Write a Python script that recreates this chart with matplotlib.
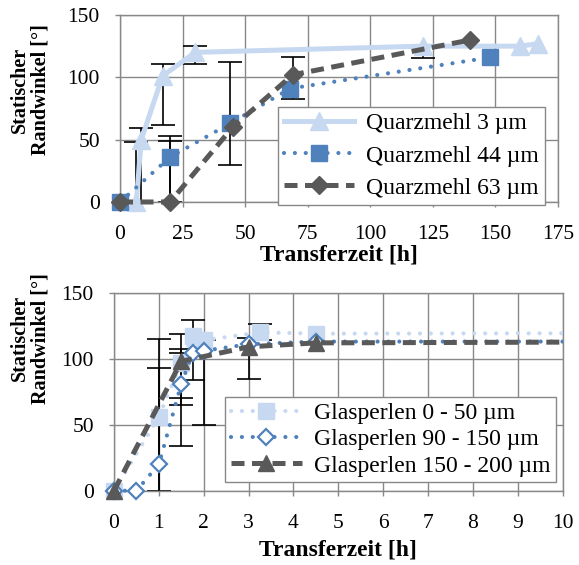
import numpy as np
import matplotlib.pyplot as plt
from matplotlib.patches import Rectangle

plt.rcParams['font.family'] = ['Liberation Serif', 'DejaVu Serif']

# ---- top chart: Quarzmehl ----
q3_t = [6.5, 8.5, 17, 30, 121, 160, 167]
q3_w = [0, 50, 101, 120, 125, 125, 127]
q3_lo = [None, 0, 62, 111, 115.5, None, None]
q3_hi = [48, 59, 111, 125, 125, None, None]

q44_t = [0, 20, 44, 68, 148]
q44_w = [0, 36, 63, 91, 116]
q44_lo = [None, 0, 30, None, None]
q44_hi = [None, 53, 112.5, None, None]

q63_t = [0, 20, 45, 69, 140]
q63_w = [0, 0, 60, 102, 130]
q63_lo = [None, -49, None, 82.6, None]
q63_hi = [None, 49, None, 116.5, None]

# ---- bottom chart: Glasperlen ----
g1_t = [0, 1, 1.5, 1.75, 2, 3.25, 4.5, 24]
g1_w = [0, 56, 97, 117, 114, 120, 119, 120]
g1_lo = [None, 0, 70, 84, 50, 114, None, None]
g1_hi = [None, 115, 104.5, 129.3, 114, 126, None, None]

g2_t = [0, 0.5, 1, 1.5, 1.75, 2, 3, 4.5, 24]
g2_w = [0, 0, 20, 81, 104, 106, 111, 113, 113]
g2_lo = [None, None, -52, 34, None, None, 84.6, None, None]
g2_hi = [None, None, 92.7, 118.5, None, None, 116, None, None]

g3_t = [0, 1.5, 3, 4.5, 24]
g3_w = [0, 98, 109, 112, 114]
g3_lo = [None, 65, None, None, None]
g3_hi = [None, 107, None, None, None]

light = '#c6d9f1'
mid = '#4f81bd'
dark = '#595959'
grey = '#888888'


def err(ax, t, w, lo, hi):
    xs, ys, el, eh = [], [], [], []
    for x, y, a, b in zip(t, w, lo, hi):
        if a is None and b is None:
            continue
        a = y if a is None else a
        b = y if b is None else b
        xs.append(x); ys.append(y); el.append(y - a); eh.append(b - y)
    ax.errorbar(xs, ys, yerr=[el, eh], fmt='none', ecolor='black',
                elinewidth=1.2, capsize=8.5, capthick=1.2, zorder=2)


def style(ax, xticks, lab_x, lab_y):
    ax.set_ylim(0, 150)
    ax.set_yticks([0, 50, 100, 150])
    ax.set_xticks(xticks)
    ax.grid(True, color=grey, lw=1.0)
    ax.set_axisbelow(True)
    for s in ax.spines.values():
        s.set_color(grey)
        s.set_linewidth(1.0)
    ax.tick_params(direction='out', length=3.5, width=1, color=grey,
                   labelsize=15.5)
    ax.tick_params(axis='x', pad=13)
    ax.tick_params(axis='y', pad=11)
    ax.text(lab_x, lab_y, 'Statischer\nRandwinkel [°]', rotation=90,
            ha='center', va='center', multialignment='center',
            fontsize=14.5, fontweight='bold', transform=ax.transAxes,
            linespacing=1.0)


def legend(ax, anchor, spacing):
    leg = ax.legend(loc='upper right', bbox_to_anchor=anchor,
                    fontsize=17, fancybox=False, framealpha=1,
                    edgecolor=grey, handlelength=3.0, borderpad=0.25,
                    labelspacing=spacing, borderaxespad=0,
                    handletextpad=0.5)
    leg.get_frame().set_linewidth(1.0)
    leg.set_zorder(10)


fig = plt.figure(figsize=(5.79, 5.65), dpi=100)

ax1 = fig.add_axes([0.2073, 0.6425, 0.7565, 0.331])
ax1.set_xlim(0, 175)
style(ax1, np.arange(0, 176, 25), -0.205, 0.6)
err(ax1, q3_t, q3_w, q3_lo, q3_hi)
err(ax1, q44_t, q44_w, q44_lo, q44_hi)
err(ax1, q63_t, q63_w, q63_lo, q63_hi)
ax1.plot(q3_t, q3_w, '-', color=light, lw=3.6, marker='^', ms=13,
         label='Quarzmehl 3 µm', clip_on=False, zorder=3)
ax1.plot(q44_t, q44_w, color=mid, lw=3, ls=(0, (0.01, 2.6)),
         dash_capstyle='round', marker='s', ms=11,
         label='Quarzmehl 44 µm', clip_on=False, zorder=4)
ax1.plot(q63_t, q63_w, color=dark, lw=3.6, ls=(0, (2.6, 1.5)),
         marker='D', ms=9, label='Quarzmehl 63 µm', clip_on=False, zorder=5)
ax1.text(0.5, -0.285, 'Transferzeit [h]', transform=ax1.transAxes,
         ha='center', va='center', fontsize=17, fontweight='bold')
legend(ax1, (0.97, 0.508), 0.45)

ax2 = fig.add_axes([0.1969, 0.1315, 0.775, 0.3504])
ax2.set_xlim(0, 10)
style(ax2, np.arange(0, 11, 1), -0.187, 0.77)
err(ax2, g1_t, g1_w, g1_lo, g1_hi)
err(ax2, g2_t, g2_w, g2_lo, g2_hi)
err(ax2, g3_t, g3_w, g3_lo, g3_hi)
lines = []
lines += ax2.plot(g1_t, g1_w, color=light, lw=3, ls=(0, (0.01, 2.6)),
                  dash_capstyle='round', marker='s', ms=11,
                  label='Glasperlen 0 - 50 µm', zorder=3)
lines += ax2.plot(g2_t, g2_w, color=mid, lw=3, ls=(0, (0.01, 2.6)),
                  dash_capstyle='round', marker='D', ms=8, mfc='white',
                  mew=1.6, label='Glasperlen 90 - 150 µm', zorder=4)
lines += ax2.plot(g3_t, g3_w, color=dark, lw=3.6, ls=(0, (2.6, 1.5)),
                  marker='^', ms=11, label='Glasperlen 150 - 200 µm', zorder=5)
for ln in lines:
    ln.set_clip_path(Rectangle((-0.1, -0.1), 1.1, 1.2,
                               transform=ax2.transAxes))
ax2.text(0.5, -0.30, 'Transferzeit [h]', transform=ax2.transAxes,
         ha='center', va='center', fontsize=17, fontweight='bold')
legend(ax2, (0.985, 0.475), 0.2)

fig.savefig('out.png', dpi=100)
